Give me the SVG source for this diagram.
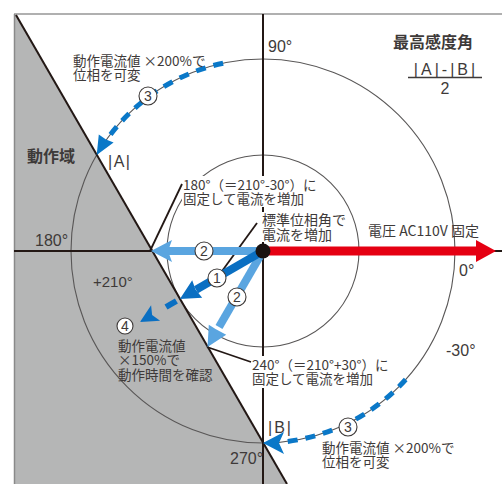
<svg xmlns="http://www.w3.org/2000/svg" width="502" height="484" viewBox="0 0 502 484">
<style>
.jp{font-family:"Noto Sans CJK JP","Noto Sans",sans-serif;fill:#3e3a39;font-size:13.5px}
.lat{font-family:"Liberation Sans","Noto Sans",sans-serif;fill:#3e3a39;font-size:16px}
.ax{stroke:#231815;stroke-width:2;fill:none}
.circ{stroke:#595757;stroke-width:1.1;fill:none}
.lead{stroke:#231815;stroke-width:1.8;fill:none}
.arcd{stroke:#0a78c8;stroke-width:5;fill:none;stroke-dasharray:10 8}
.bg{fill:#fff}
.num circle{fill:#fff;stroke:#3e3a39;stroke-width:1.1}
.num text{font-family:"Liberation Sans","Noto Sans",sans-serif;font-size:14px;fill:#3e3a39;text-anchor:middle}
</style>
<rect width="502" height="484" fill="#fff"/>
<g id="background">
<polygon points="14,14 16,14 287,484 14,484" fill="#b5b6b6"/>
<line x1="14" y1="14" x2="502" y2="14" stroke="#b0b0b0" stroke-width="2"/>
<line x1="14.5" y1="14" x2="14.5" y2="484" stroke="#8a8a8a" stroke-width="1.5"/>
<circle class="circ" cx="263" cy="251" r="192"/>
<circle class="circ" cx="263" cy="251" r="96"/>
<line class="ax" x1="263" y1="14" x2="263" y2="484"/>
<line class="ax" x1="14" y1="251" x2="502" y2="251"/>
<line class="ax" x1="16" y1="15" x2="287" y2="484"/>
<rect class="bg" x="182" y="176" width="136" height="31"/>
<rect class="bg" x="251" y="356" width="132" height="32"/>
<rect class="bg" x="260" y="212" width="90" height="30"/>
</g>
<g id="connectors">
<line class="lead" x1="182" y1="184" x2="150" y2="251"/>
<line class="lead" x1="217" y1="278" x2="257" y2="223"/>
<line class="lead" x1="207" y1="347" x2="251" y2="362"/>
<rect x="263" y="246.5" width="215" height="9" fill="#e50012"/>
<polygon points="476,240 496,251 476,262" fill="#e50012"/>
<line x1="263" y1="251" x2="168" y2="251" stroke="#5aa5e0" stroke-width="8"/>
<polygon points="151,251 172,240 168,251 172,262" fill="#5aa5e0"/>
<line x1="263" y1="251" x2="219" y2="327" stroke="#5aa5e0" stroke-width="8"/>
<polygon points="207.5,347.1 208.8,324.8 215.5,329 226.2,334.8" fill="#5aa5e0"/>
<line x1="263" y1="251" x2="196" y2="289.7" stroke="#0a6fc2" stroke-width="8"/>
<polygon points="179.9,299 192.2,280.3 195.5,289.5 202.2,297.7" fill="#0a6fc2"/>
<line x1="176.4" y1="301" x2="166" y2="307" stroke="#0a6fc2" stroke-width="6"/>
<polygon points="140,322 151.1,305.2 152.1,315 160.1,320.8" fill="#0a6fc2"/>
<path class="arcd" d="M223.1,63.2 A192,192 0 0 0 106.5,140"/>
<polygon points="96.7,155 98.8,134.4 106,139.6 113.6,142.4" fill="#0a78c8"/>
<path class="arcd" d="M405.7,379.5 A192,192 0 0 1 282,442.1"/>
<polygon points="263,443 284,432 279,443 284,454" fill="#0a78c8"/>
<circle cx="263" cy="251" r="7.5" fill="#1a1311"/>
</g>
<g id="num1" class="num"><circle cx="217" cy="278" r="9"/><text x="217" y="283">1</text></g>
<g id="num2a" class="num"><circle cx="204" cy="251" r="9"/><text x="204" y="256">2</text></g>
<g id="num2b" class="num"><circle cx="237" cy="297" r="9"/><text x="237" y="302">2</text></g>
<g id="num3a" class="num"><circle cx="148" cy="96" r="9"/><text x="148" y="101">3</text></g>
<g id="num3b" class="num"><circle cx="348" cy="427" r="9"/><text x="348" y="432">3</text></g>
<g id="num4" class="num"><circle cx="125" cy="326" r="8"/><text x="125" y="331">4</text></g>
<g id="label-title">
<text class="jp" x="393" y="48" style="font-size:16px;font-weight:bold">最高感度角</text>
<text class="lat" x="446" y="75" text-anchor="middle" letter-spacing="3">|A|-|B|</text>
<line x1="408" y1="77.5" x2="482" y2="77.5" stroke="#3e3a39" stroke-width="1.3"/>
<text class="lat" x="445" y="94" text-anchor="middle">2</text>
</g>
<g id="label-zone"><text class="jp" x="27" y="162" style="font-size:16px;font-weight:bold">動作域</text></g>
<g id="label-A"><text class="lat" x="108" y="167" letter-spacing="1.5">|A|</text></g>
<g id="label-B"><text class="lat" x="268" y="433" letter-spacing="2">|B|</text></g>
<g id="label-90"><text class="lat" x="268" y="52">90°</text></g>
<g id="label-180"><text class="lat" x="35" y="246">180°</text></g>
<g id="label-210"><text class="lat" x="93" y="287" style="font-size:15px">+210°</text></g>
<g id="label-0"><text class="lat" x="459" y="276">0°</text></g>
<g id="label-m30"><text class="lat" x="446" y="356">-30°</text></g>
<g id="label-270"><text class="lat" x="230" y="464">270°</text></g>
<g id="label-phase-upper"><text class="jp" x="73" y="65.5">動作電流値 ×200%で<tspan x="73" y="80">位相を可変</tspan></text></g>
<g id="label-phase-lower"><text class="jp" x="322" y="452.5">動作電流値 ×200%で<tspan x="322" y="467">位相を可変</tspan></text></g>
<g id="label-180fix"><text class="jp" x="183" y="189.5">180°（＝210°-30°）に<tspan x="183" y="204">固定して電流を増加</tspan></text></g>
<g id="label-240fix"><text class="jp" x="252" y="369.5">240°（＝210°+30°）に<tspan x="252" y="384">固定して電流を増加</tspan></text></g>
<g id="label-std"><text class="jp" x="262" y="225" style="font-size:14px">標準位相角で<tspan x="262" y="239.5">電流を増加</tspan></text></g>
<g id="label-voltage"><text class="jp" x="368" y="236" style="font-size:14px">電圧 AC110V 固定</text></g>
<g id="label-150"><text class="jp" x="118" y="350.5">動作電流値<tspan x="118" y="365">×150%で</tspan><tspan x="118" y="379.5">動作時間を確認</tspan></text></g>
</svg>
